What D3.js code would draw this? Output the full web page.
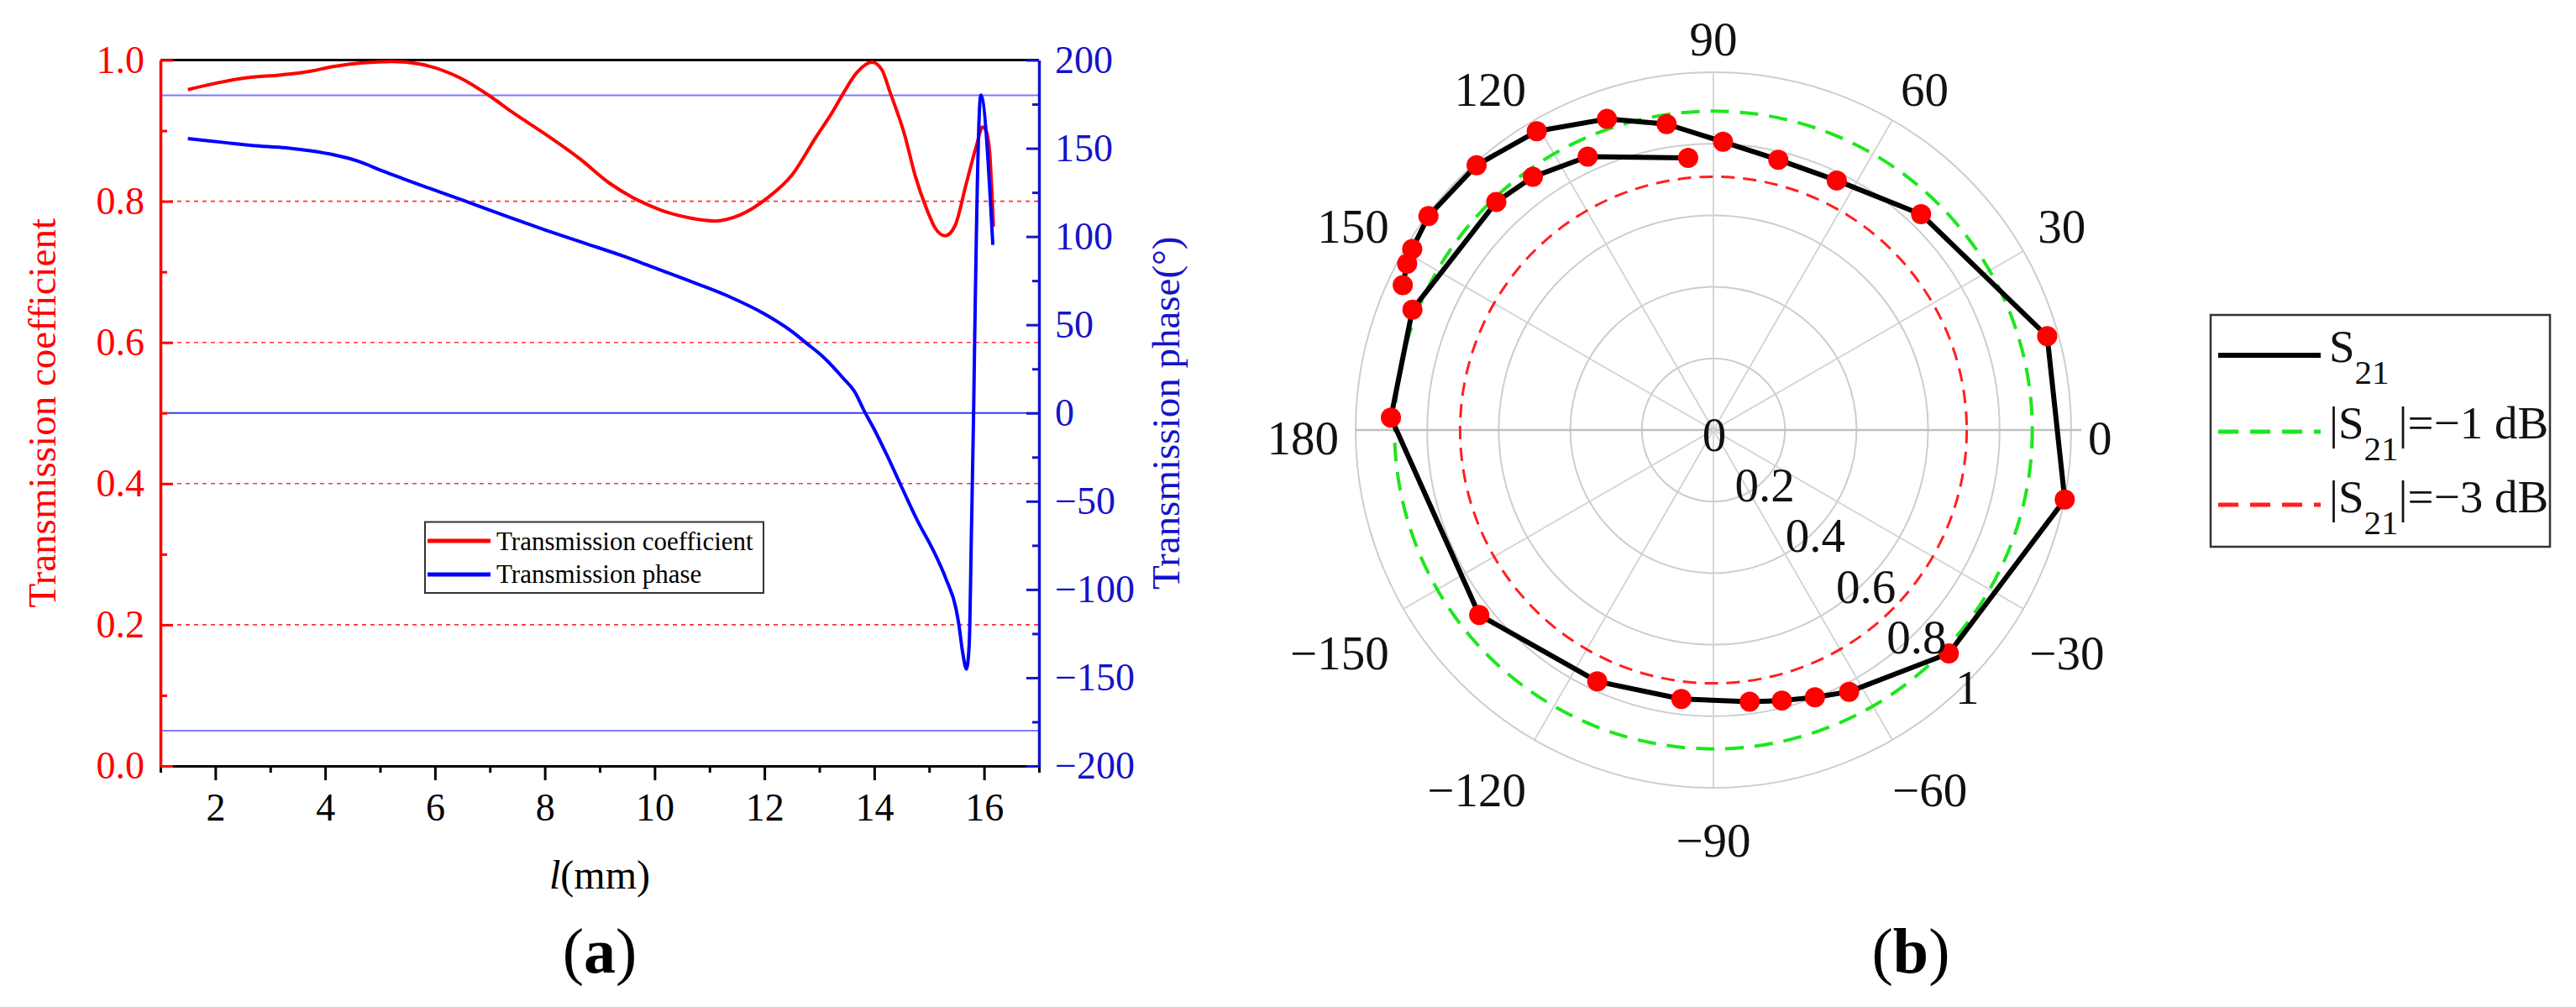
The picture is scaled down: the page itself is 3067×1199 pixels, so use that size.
<!DOCTYPE html>
<html><head><meta charset="utf-8">
<script src="https://cdn.jsdelivr.net/npm/d3@7"></script>
<style>
body{margin:0;background:#fff;}
svg{display:block;}
text{font-family:"Liberation Serif","Times New Roman",serif;}
</style>
</head><body>
<svg id="c" width="3067" height="1199"></svg>
<script>
// ---------- data: panel (a) ----------
const xDomain = [1, 17];
const xTicks = [2, 4, 6, 8, 10, 12, 14, 16];
const xMinor = [1, 3, 5, 7, 9, 11, 13, 15, 17];
const coefTicks = [0, 0.2, 0.4, 0.6, 0.8, 1.0];
const coefMinor = [0.1, 0.3, 0.5, 0.7, 0.9];
const coefGrid = [0.2, 0.4, 0.6, 0.8];
const phaseTicks = [-200, -150, -100, -50, 0, 50, 100, 150, 200];
const phaseMinor = [-175, -125, -75, -25, 25, 75, 125, 175];
const phaseGrid = [180, 0, -180];

const coefL = [1.5, 2.06, 2.58, 3.2, 3.64, 4.17, 4.69, 5.22, 5.75, 6.45, 6.98, 7.41, 8.03, 8.64, 9.17, 9.61, 10.13, 10.66, 11.1, 11.54, 12.06, 12.5, 12.94, 13.22, 13.43, 13.68, 13.96, 14.14, 14.29, 14.55, 14.75, 14.96, 15.11, 15.29, 15.47, 15.67, 15.87, 15.97, 16.03, 16.10, 16.17];
const coefV = [0.958, 0.968, 0.975, 0.979, 0.983, 0.991, 0.996, 0.998, 0.994, 0.975, 0.950, 0.926, 0.894, 0.860, 0.826, 0.805, 0.787, 0.776, 0.772, 0.780, 0.805, 0.837, 0.891, 0.924, 0.952, 0.982, 0.997, 0.986, 0.954, 0.895, 0.835, 0.788, 0.762, 0.751, 0.765, 0.823, 0.881, 0.905, 0.901, 0.871, 0.764];

const phaseL = [1.5, 2.15, 2.67, 3.29, 3.73, 4.17, 4.61, 5.05, 5.4, 5.93, 6.54, 7.33, 8.03, 8.73, 9.44, 10.05, 10.75, 11.37, 11.98, 12.5, 12.76, 13.07, 13.43, 13.66, 13.81, 13.99, 14.24, 14.5, 14.8, 15.06, 15.31, 15.49, 15.54, 15.61, 15.68, 15.73, 15.77, 15.81, 15.83, 15.94, 16.16];
const phaseV = [155.5, 153.3, 151.6, 150.3, 148.6, 146.2, 142.6, 137.1, 133.0, 127.0, 120.2, 111.2, 103.5, 96.2, 88.8, 81.7, 73.5, 65.8, 56.5, 46.2, 39.7, 31.8, 19.9, 11.2, 1.6, -8.7, -24.5, -42.0, -61.8, -76.9, -94.3, -111.0, -119.7, -135.6, -145.1, -130.8, -67.4, 0.8, 43.7, 180.1, 95.2];

const seriesNames = ["Transmission coefficient", "Transmission phase"];

// ---------- data: panel (b) ----------
const s21Phase = [155.0, 151.5, 149.0, 143.1, 131.8, 120.6, 108.9, 98.7, 88.1, 76.5, 63.7, 46.1, 15.7, -11.2, -43.5, -62.6, -69.2, -75.8, -82.4, -96.8, -114.8, -141.7, 177.8, 158.2, 133.6, 125.5, 114.7, 95.3];
const s21Mag = [0.958, 0.974, 0.982, 0.996, 0.993, 0.970, 0.919, 0.865, 0.806, 0.777, 0.778, 0.837, 0.969, 1.001, 0.907, 0.824, 0.799, 0.780, 0.766, 0.757, 0.774, 0.834, 0.902, 0.906, 0.880, 0.869, 0.841, 0.764];
const rTicks = [0.2, 0.4, 0.6, 0.8, 1.0];
const rLabels = [0, 0.2, 0.4, 0.6, 0.8, 1];
const angTicks = [0, 30, 60, 90, 120, 150, 180, -150, -120, -90, -60, -30];
const dbLevels = [-1, -3];

// ---------- drawing ----------
const svg = d3.select("#c");
svg.append("rect").attr("width", 3067).attr("height", 1199).attr("fill", "#fff");
const FONT = '"Liberation Serif","Times New Roman",serif';
const RED = "#ff0000", BLUE = "#0000ff", BLUE_T = "#1414c8";

// ===== Panel (a) =====
const A = {left: 191, right: 1237, top: 71.5, bottom: 912};
const x = d3.scaleLinear().domain(xDomain).range([A.left, A.right]);
const yL = d3.scaleLinear().domain([0, 1]).range([A.bottom, A.top]);
const yR = d3.scaleLinear().domain([-200, 200]).range([A.bottom, A.top]);
const gA = svg.append("g");

gA.selectAll("line.rg").data(coefGrid).join("line").attr("class", "rg")
  .attr("x1", A.left).attr("x2", A.right).attr("y1", d => yL(d)).attr("y2", d => yL(d))
  .attr("stroke", "#ff3333").attr("stroke-width", 1.6).attr("stroke-dasharray", "5,5");
gA.selectAll("line.bg").data(phaseGrid).join("line").attr("class", "bg")
  .attr("x1", A.left).attr("x2", A.right).attr("y1", d => yR(d)).attr("y2", d => yR(d))
  .attr("stroke", d => d === 0 ? "#3a3aff" : "#7a7aff").attr("stroke-width", 2);

// top frame line
gA.append("line").attr("x1", A.left).attr("x2", A.right).attr("y1", A.top).attr("y2", A.top)
  .attr("stroke", "#000").attr("stroke-width", 3);

// bottom axis
const gb = gA.append("g").attr("transform", `translate(0,${A.bottom})`)
  .call(d3.axisBottom(x).tickValues(xTicks).tickSize(17).tickPadding(15).tickSizeOuter(0).tickFormat(d3.format("d")));
gb.attr("font-family", FONT).attr("font-size", 46);
gb.select(".domain").attr("stroke", "#000").attr("stroke-width", 3);
gb.selectAll(".tick line").attr("stroke", "#000").attr("stroke-width", 3);
gb.selectAll(".tick text").attr("fill", "#000");
const gbm = gA.append("g").attr("transform", `translate(0,${A.bottom})`)
  .call(d3.axisBottom(x).tickValues(xMinor).tickSize(8).tickSizeOuter(0).tickFormat(""));
gbm.select(".domain").remove();
gbm.selectAll(".tick line").attr("stroke", "#000").attr("stroke-width", 3);

// left axis
const gl = gA.append("g").attr("transform", `translate(${A.left},0)`)
  .call(d3.axisLeft(yL).tickValues(coefTicks).tickSize(-15).tickPadding(19).tickSizeOuter(0).tickFormat(d3.format(".1f")));
gl.attr("font-family", FONT).attr("font-size", 46);
gl.select(".domain").attr("stroke", RED).attr("stroke-width", 3.5);
gl.selectAll(".tick line").attr("stroke", RED).attr("stroke-width", 3);
gl.selectAll(".tick text").attr("fill", RED);
const glm = gA.append("g").attr("transform", `translate(${A.left},0)`)
  .call(d3.axisLeft(yL).tickValues(coefMinor).tickSize(-8).tickSizeOuter(0).tickFormat(""));
glm.select(".domain").remove();
glm.selectAll(".tick line").attr("stroke", RED).attr("stroke-width", 3);

// right axis
const gr = gA.append("g").attr("transform", `translate(${A.right},0)`)
  .call(d3.axisRight(yR).tickValues(phaseTicks).tickSize(-15).tickPadding(19).tickSizeOuter(0).tickFormat(d3.format("d")));
gr.attr("font-family", FONT).attr("font-size", 46);
gr.select(".domain").attr("stroke", BLUE_T).attr("stroke-width", 3.5);
gr.selectAll(".tick line").attr("stroke", BLUE_T).attr("stroke-width", 3);
gr.selectAll(".tick text").attr("fill", BLUE_T);
const grm = gA.append("g").attr("transform", `translate(${A.right},0)`)
  .call(d3.axisRight(yR).tickValues(phaseMinor).tickSize(-8).tickSizeOuter(0).tickFormat(""));
grm.select(".domain").remove();
grm.selectAll(".tick line").attr("stroke", BLUE_T).attr("stroke-width", 3);

// curves
const coefData = coefL.map((l, i) => ({l, v: coefV[i]}));
const phaseData = phaseL.map((l, i) => ({l, v: phaseV[i]}));
gA.append("path").datum(coefData)
  .attr("d", d3.line().x(d => x(d.l)).y(d => yL(d.v)).curve(d3.curveMonotoneX))
  .attr("fill", "none").attr("stroke", RED).attr("stroke-width", 4).attr("stroke-linejoin", "round");
gA.append("path").datum(phaseData)
  .attr("d", d3.line().x(d => x(d.l)).y(d => yR(d.v)).curve(d3.curveMonotoneX))
  .attr("fill", "none").attr("stroke", BLUE).attr("stroke-width", 4).attr("stroke-linejoin", "round");

// legend (a)
const lg = gA.append("g");
lg.append("rect").attr("x", 506).attr("y", 621.5).attr("width", 403).attr("height", 84.5)
  .attr("fill", "#fff").attr("stroke", "#333").attr("stroke-width", 2);
[RED, BLUE].forEach((c, i) => {
  const yy = 644 + i * 40;
  lg.append("line").attr("x1", 509).attr("x2", 584).attr("y1", yy).attr("y2", yy)
    .attr("stroke", c).attr("stroke-width", 5);
  lg.append("text").attr("x", 591).attr("y", 655 + i * 39).attr("font-size", 31)
    .attr("fill", "#000").text(seriesNames[i]);
});

// titles
gA.append("text").attr("transform", `translate(66,${(A.top + A.bottom) / 2}) rotate(-90)`)
  .attr("text-anchor", "middle").attr("font-size", 47).attr("fill", RED).text("Transmission coefficient");
gA.append("text").attr("transform", `translate(1404,${(A.top + A.bottom) / 2}) rotate(-90)`)
  .attr("text-anchor", "middle").attr("font-size", 47).attr("fill", BLUE_T).text("Transmission phase(°)");
const xt = gA.append("text").attr("x", (A.left + A.right) / 2).attr("y", 1058)
  .attr("text-anchor", "middle").attr("font-size", 48).attr("fill", "#000");
xt.append("tspan").attr("font-style", "italic").text("l");
xt.append("tspan").text("(mm)");
const ta = gA.append("text").attr("x", (A.left + A.right) / 2).attr("y", 1158)
  .attr("text-anchor", "middle").attr("font-size", 76).attr("fill", "#000");
ta.append("tspan").text("(");
ta.append("tspan").attr("font-weight", "bold").text("a");
ta.append("tspan").text(")");

// ===== Panel (b) =====
const cx = 2040, cy = 512, R = 426;
const r = d3.scaleLinear().domain([0, 1]).range([0, R]);
const ang = d3.scaleLinear().domain([0, 90]).range([Math.PI / 2, 0]); // d3 radial angle
const gP = svg.append("g").attr("transform", `translate(${cx},${cy})`);
const px = (deg, rad) => rad * Math.sin(ang(deg));
const py = (deg, rad) => -rad * Math.cos(ang(deg));

gP.selectAll("circle.ring").data(rTicks).join("circle").attr("class", "ring")
  .attr("r", d => r(d)).attr("fill", "none").attr("stroke", "#cdcdcd").attr("stroke-width", 2);
gP.selectAll("line.spoke").data(angTicks).join("line").attr("class", "spoke")
  .attr("x1", 0).attr("y1", 0)
  .attr("x2", d => px(d, r(1) + (d === 0 ? 12 : 0))).attr("y2", d => py(d, r(1)))
  .attr("stroke", d => (d === 0 || d === 180) ? "#c0c0c0" : "#d2d2d2").attr("stroke-width", d => (d === 0 || d === 180) ? 2.5 : 1.8);

const dbColors = ["#1ee61e", "#ff2020"];
gP.selectAll("circle.db").data(dbLevels).join("circle").attr("class", "db")
  .attr("r", d => r(Math.pow(10, d / 20))).attr("fill", "none")
  .attr("stroke", (d, i) => dbColors[i]).attr("stroke-width", (d, i) => i === 0 ? 4 : 3)
  .attr("stroke-dasharray", (d, i) => i === 0 ? "22,13" : "16,10");

const s21 = s21Phase.map((p, i) => ({p, m: s21Mag[i]}));
gP.append("path").datum(s21)
  .attr("d", d3.lineRadial().angle(d => ang(d.p)).radius(d => r(d.m)))
  .attr("fill", "none").attr("stroke", "#000").attr("stroke-width", 6).attr("stroke-linejoin", "round");
gP.selectAll("circle.mk").data(s21).join("circle").attr("class", "mk")
  .attr("cx", d => px(d.p, r(d.m))).attr("cy", d => py(d.p, r(d.m)))
  .attr("r", 12).attr("fill", RED);

// angular labels
const fmtA = d3.format("d");
angTicks.forEach(a => {
  const t = a * Math.PI / 180, c = Math.cos(t), s = Math.sin(t);
  const ax0 = px(a, r(1) + 20), ay0 = py(a, r(1) + 20);
  const anchor = c > 0.3 ? "start" : (c < -0.3 ? "end" : "middle");
  const base = s > 0.3 ? ay0 : (s < -0.3 ? ay0 + 62 : ay0 + 29);
  const xx = ax0 + (c > 0.3 && s < -0.3 ? -10 : 0);
  gP.append("text").attr("x", xx).attr("y", base).attr("text-anchor", anchor)
    .attr("font-size", 57).attr("fill", "#111").text(fmtA(a));
});
// radial labels along -45°
rLabels.forEach(v => {
  gP.append("text").attr("x", px(-45, r(v)) + 1).attr("y", py(-45, r(v)) + 25)
    .attr("text-anchor", "middle").attr("font-size", 57).attr("fill", "#111").text(v === 0 || v === 1 ? fmtA(v) : d3.format(".1f")(v));
});

// legend (b)
const lb = svg.append("g");
lb.append("rect").attr("x", 2632).attr("y", 375).attr("width", 404).attr("height", 276)
  .attr("fill", "#fff").attr("stroke", "#333").attr("stroke-width", 2.5);
const legRows = [
  {y: 423, base: 431, color: "#000", dash: null, w: 6, pre: "S", post: ""},
  {y: 514, base: 521.5, color: dbColors[0], dash: "24,14", w: 5, pre: "|S", post: "|=\u22121 dB"},
  {y: 601, base: 610, color: dbColors[1], dash: "24,14", w: 5, pre: "|S", post: "|=\u22123 dB"}
];
legRows.forEach(row => {
  lb.append("line").attr("x1", 2641).attr("x2", 2763).attr("y1", row.y).attr("y2", row.y)
    .attr("stroke", row.color).attr("stroke-width", row.w).attr("stroke-dasharray", row.dash);
  const t = lb.append("text").attr("x", 2773).attr("y", row.base).attr("font-size", 55).attr("fill", "#111");
  t.append("tspan").text(row.pre);
  t.append("tspan").attr("font-size", 41).attr("dy", 26).text("21");
  if (row.post) t.append("tspan").attr("dy", -26).text(row.post);
});

const tb = svg.append("text").attr("x", 2275).attr("y", 1158)
  .attr("text-anchor", "middle").attr("font-size", 76).attr("fill", "#000");
tb.append("tspan").text("(");
tb.append("tspan").attr("font-weight", "bold").text("b");
tb.append("tspan").text(")");
</script>
</body></html>
